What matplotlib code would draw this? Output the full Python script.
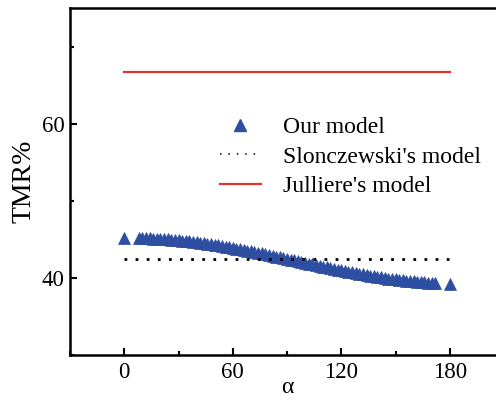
import matplotlib
matplotlib.use("Agg")
import matplotlib.pyplot as plt
from matplotlib.lines import Line2D
from matplotlib.ticker import MultipleLocator

plt.rcParams['font.family'] = ['Liberation Serif', 'DejaVu Serif']

alpha = [0, 8, 10, 12, 14, 16, 18, 20, 22, 24, 26, 28, 30, 32, 34, 36, 38, 40, 42, 44,
         46, 48, 50, 52, 54, 56, 58, 60, 62, 64, 66, 68, 70, 72, 74, 76, 78, 80, 82, 84,
         86, 88, 90, 92, 94, 96, 98, 100, 102, 104, 106, 108, 110, 112, 114, 116, 118,
         120, 122, 124, 126, 128, 130, 132, 134, 136, 138, 140, 142, 144, 146, 148, 150,
         152, 154, 156, 158, 160, 162, 164, 166, 168, 170, 172, 180]
our_model = [45.13, 45.14, 45.13, 45.12, 45.11, 45.09, 45.07, 45.05, 45.02, 44.99, 44.95,
             44.91, 44.87, 44.83, 44.78, 44.73, 44.68, 44.62, 44.56, 44.50, 44.43, 44.36,
             44.29, 44.22, 44.14, 44.06, 43.98, 43.90, 43.81, 43.73, 43.64, 43.55, 43.46,
             43.36, 43.27, 43.17, 43.07, 42.97, 42.88, 42.77, 42.67, 42.57, 42.47, 42.37,
             42.26, 42.16, 42.06, 41.96, 41.85, 41.75, 41.65, 41.55, 41.45, 41.35, 41.25,
             41.16, 41.06, 40.97, 40.88, 40.79, 40.70, 40.61, 40.52, 40.44, 40.36, 40.28,
             40.20, 40.13, 40.06, 39.99, 39.92, 39.86, 39.80, 39.74, 39.68, 39.63, 39.58,
             39.54, 39.50, 39.46, 39.42, 39.39, 39.36, 39.34, 39.27]
line_x = [0, 180]
slonczewski = [42.4, 42.4]
julliere = [66.7, 66.7]

blue = '#2e4fa1'
red = '#e8322b'

fig = plt.figure(figsize=(4.96, 4.0), dpi=100)
ax = fig.add_axes([70/496, 1-355/400, 434/496, 347/400])

ax.plot(alpha, our_model, linestyle='none', marker='^', markersize=8,
        color=blue, markeredgewidth=0.5)
ax.plot(line_x, slonczewski, linestyle=(0, (1, 3)), linewidth=2, color='black')
ax.plot(line_x, julliere, linestyle='-', linewidth=1.6, color=red)

ax.set_xlim(-30, 210)
ax.set_ylim(30, 75)
ax.xaxis.set_major_locator(MultipleLocator(60))
ax.xaxis.set_minor_locator(MultipleLocator(30))
ax.yaxis.set_major_locator(MultipleLocator(20))
ax.yaxis.set_minor_locator(MultipleLocator(10))
ax.tick_params(which='both', direction='in', width=1.5, labelsize=16.5)
ax.tick_params(which='major', length=5)
ax.tick_params(which='minor', length=3)
ax.tick_params(axis='x', pad=5)
ax.tick_params(axis='y', pad=4)
for s in ax.spines.values():
    s.set_linewidth(1.8)

ax.set_xlabel('α', fontsize=17, labelpad=-4)
ax.set_ylabel('TMR%', fontsize=20, labelpad=4)

handles = [
    Line2D([], [], linestyle='none', marker='^', markersize=8, color=blue),
    Line2D([], [], linestyle=(0, (1, 4.5)), linewidth=1.1, color='black'),
    Line2D([], [], linestyle='-', linewidth=1.6, color=red),
]
labels = ['Our model', "Slonczewski's model", "Julliere's model"]
ax.legend(handles, labels, loc='upper left', bbox_to_anchor=(0.323, 0.714),
          frameon=False, fontsize=17, handlelength=1.75, handletextpad=0.95,
          labelspacing=0.33, borderaxespad=0)

fig.savefig('out.png', dpi=100)
